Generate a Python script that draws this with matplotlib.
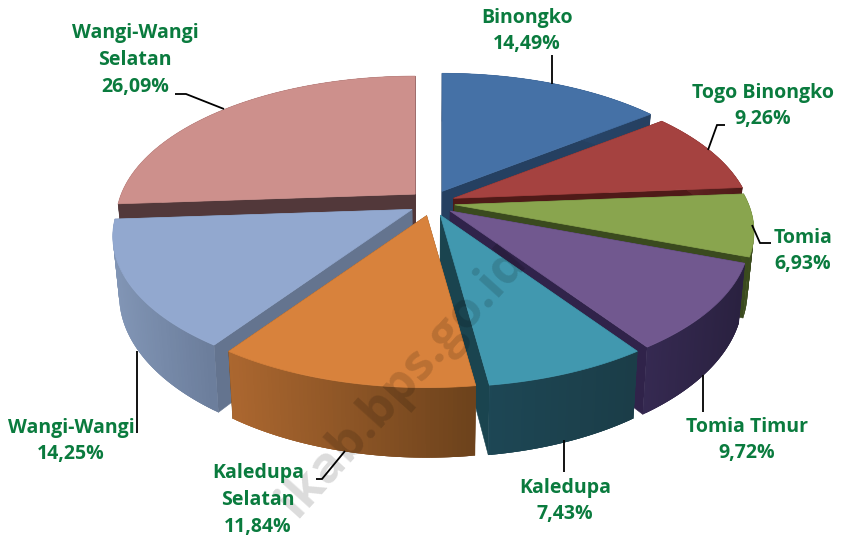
"""Exploded 3D pie of district shares, projected by hand onto a flat axes."""

import numpy as np
import matplotlib

matplotlib.use("Agg")
import matplotlib.pyplot as plt
from matplotlib.colors import to_rgb
from matplotlib.patches import Polygon

plt.rcParams["font.family"] = ["Open Sans", "DejaVu Sans"]

names = ["Binongko", "Togo Binongko", "Tomia", "Tomia Timur", "Kaledupa",
         "Kaledupa Selatan", "Wangi-Wangi", "Wangi-Wangi Selatan"]
shares = [14.49, 9.26, 6.93, 9.72, 7.43, 11.84, 14.25, 26.09]
label_text = ["Binongko\n14,49%", "Togo Binongko\n9,26%", "Tomia\n6,93%", "Tomia Timur\n9,72%",
              "Kaledupa\n7,43%", "Kaledupa\nSelatan\n11,84%", "Wangi-Wangi\n14,25%",
              "Wangi-Wangi\nSelatan\n26,09%"]

top_colors = ["#4571A6", "#A54240", "#89A54E", "#71588F", "#4198AF", "#D8823C", "#92A8CF", "#CD908C"]
face_colors = ["#254061", "#4F1A18", "#3A4A1E", "#30234A", "#1A444F", "#6F441C", "#64748F", "#52383A"]
rim_left = ["#2E4F78", "#6A2A28", "#44561F", "#362A52", "#1D4755", "#AD6830", "#8296B6", "#52383A"]
rim_right = ["#254061", "#4F1A18", "#3A4A1E", "#2A2140", "#1B3D48", "#6E431C", "#6C7E9C", "#52383A"]

draw_order = [7, 0, 1, 2, 3, 6, 4, 5]

label_pos = [(527, 31), (763, 106), (803, 251), (747, 440), (565, 501), (258, 500), (71, 441), (135, 60)]
leaders = [
    [(552, 55), (552, 84)],
    [(725, 125), (717, 125), (708, 150)],
    [(771, 243), (760, 243), (752, 225)],
    [(703, 375), (703, 412)],
    [(564, 440), (564, 472)],
    [(316, 479), (322, 479), (345, 451)],
    [(137, 351), (137, 433)],
    [(175, 94), (186, 94), (224, 109)],
]

GREEN = "#0A7B3E"
CX, CY = 432, 203
EX, EY = 23, 13
RX, RY = 294, 140
PERSP = 0.186
DEPTH = 57


def mix(c1, c2, t):
    a, b = np.array(to_rgb(c1)), np.array(to_rgb(c2))
    return tuple(a + (b - a) * t)


def draw_slice(ax, i, start, end):
    mid = (start + end) / 2
    ox = CX + EX * np.sin(mid)
    oy = CY - EY * np.cos(mid)
    th = np.linspace(start, end, 60)
    u, v = np.sin(th), np.cos(th)
    den = 1 + PERSP * v
    x = ox + RX * u / den
    y = oy - RY * v / den
    xb = CX + (x - CX) * 0.98
    yb = y + DEPTH / den
    oxb = CX + (ox - CX) * 0.98
    oyb = oy + DEPTH

    # radial faces, then outer wall, then the top
    for k in (0, -1):
        ax.add_patch(Polygon([(ox, oy), (x[k], y[k]), (xb[k], yb[k]), (oxb, oyb)],
                             fc=face_colors[i], ec=face_colors[i], lw=0.4))
    xmin, xmax = x.min(), x.max()
    n = len(th)
    order = range(n - 1) if x[0] < x[-1] else range(n - 2, -1, -1)
    for k in order:
        # each quad overlaps its neighbour so no seams show
        j = min(k + 2, n - 1)
        h = max(k - 1, 0)
        t = (x[k] - xmin) / max(xmax - xmin, 1)
        c = mix(rim_left[i], rim_right[i], t)
        ax.add_patch(Polygon([(x[h], y[h]), (x[j], y[j]), (xb[j], yb[j]), (xb[h], yb[h])],
                             fc=c, ec="none", lw=0))
    ax.add_patch(Polygon(np.column_stack([np.r_[ox, x], np.r_[oy, y]]),
                         fc=top_colors[i], ec=top_colors[i], lw=0.5))


fig = plt.figure(figsize=(8.44, 5.39), dpi=100)
ax = fig.add_axes([0, 0, 1, 1])
ax.set_xlim(0, 844)
ax.set_ylim(539, 0)
ax.axis("off")

edges = np.r_[0, np.cumsum(shares)] / np.sum(shares) * 2 * np.pi
for i in draw_order:
    draw_slice(ax, i, edges[i], edges[i + 1])

ax.text(518, 254, "ikab.bps.go.id", rotation=48, rotation_mode="anchor", ha="right", va="center",
        fontsize=36, fontweight="bold", color="black", alpha=0.14)

for pts in leaders:
    ax.plot(*zip(*pts), color="black", lw=1.3, solid_capstyle="butt", solid_joinstyle="miter")

for txt, (lx, ly) in zip(label_text, label_pos):
    ax.text(lx, ly, txt, color=GREEN, fontsize=14, fontweight="bold", ha="center", va="center",
            linespacing=1.45, multialignment="center")

fig.savefig("out.png", dpi=100)
plt.close(fig)
